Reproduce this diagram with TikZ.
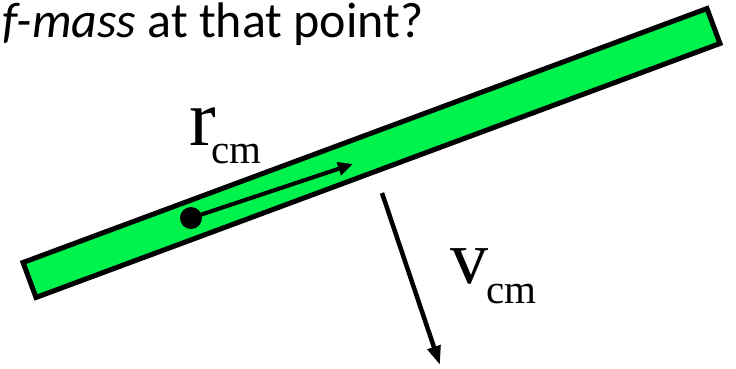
\documentclass[tikz,border=0pt]{standalone}
\usepackage{fontspec}
\setmainfont{Liberation Serif}
\newfontfamily\gillfont{Carlito}
\usetikzlibrary{arrows.meta}
\definecolor{bargreen}{RGB}{0,242,76}
\begin{document}
\begin{tikzpicture}[x=1pt,y=-1pt,
  rvec/.style={line width=4pt,-{Triangle[length=15pt,width=13pt]}},
  vvec/.style={line width=4.5pt,-{Triangle[length=19pt,width=13pt]}},
  lab/.style={anchor=base west,inner sep=0pt},
  barbox/.style={draw,line width=5pt,fill=bargreen,line join=miter,inner sep=0pt,
     minimum width=729.6pt,minimum height=37.3pt,rotate=20.37}]
\clip (0,0) rectangle (736,369);
\fill[white] (0,0) rectangle (736,369);
\node[anchor=base west,inner sep=0pt,font=\gillfont\fontsize{50}{50}\selectfont] (title) at (2,38) {\textit{f-mass} at that point?};
\node[barbox] (bar) at (371.5,153) {};
\node[circle,fill=black,minimum size=22pt,inner sep=0pt] (dot) at (191,218) {};
\coordinate (rtip) at (353,164);
\draw[rvec] (dot.center) -- (rtip);
\coordinate (vstart) at (382,193);
\coordinate (vtip) at (440,365);
\draw[vvec] (vstart) -- (vtip);
\node[lab,font=\fontsize{80}{80}\selectfont] (rlab) at (189,145) {r};
\node[lab,font=\fontsize{41}{41}\selectfont] (rsub) at (211,163) {cm};
\node[lab,font=\fontsize{76}{76}\selectfont] (vlab) at (450.5,283) {v};
\node[lab,font=\fontsize{41}{41}\selectfont] (vsub) at (486,303) {cm};
\end{tikzpicture}
\end{document}
